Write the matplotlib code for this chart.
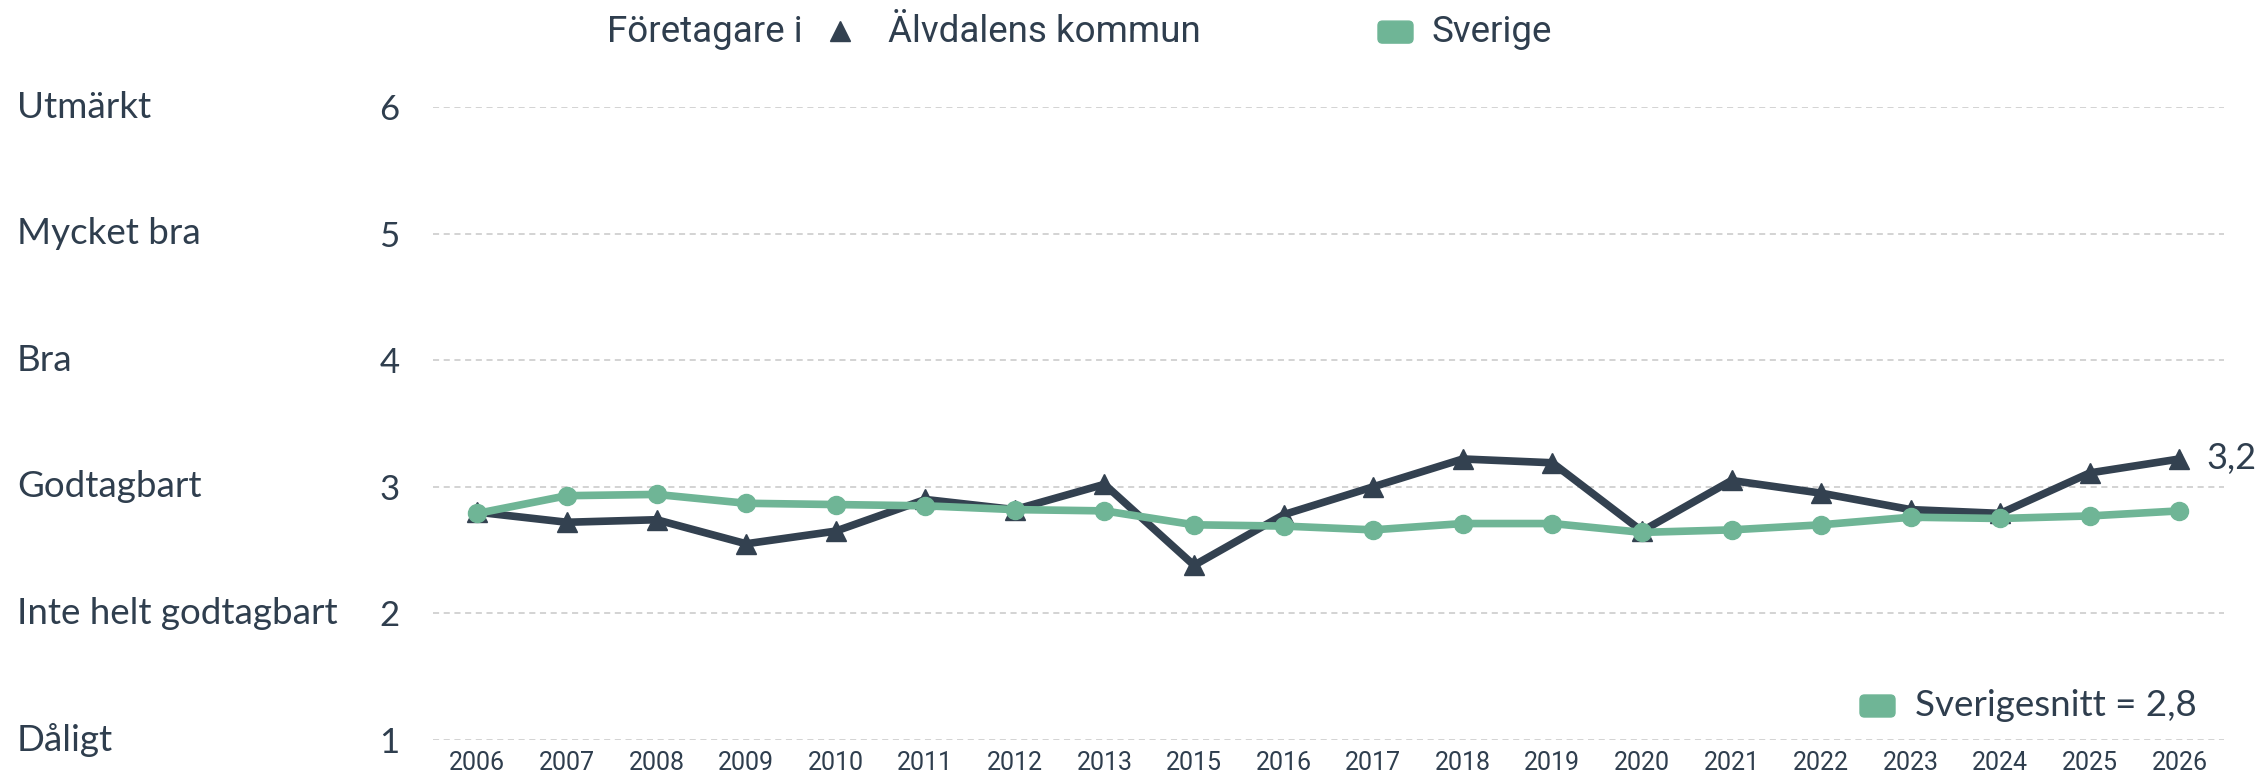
import matplotlib.pyplot as plt
import matplotlib.transforms as mtransforms
from matplotlib.patches import FancyBboxPatch

# data
years = ['2006', '2007', '2008', '2009', '2010', '2011', '2012', '2013', '2015', '2016',
         '2017', '2018', '2019', '2020', '2021', '2022', '2023', '2024', '2025', '2026']
alvdalen = [2.80, 2.72, 2.74, 2.55, 2.65, 2.90, 2.82, 3.02, 2.38, 2.78,
            3.00, 3.22, 3.19, 2.65, 3.05, 2.95, 2.82, 2.79, 3.11, 3.22]
sverige = [2.79, 2.93, 2.94, 2.87, 2.86, 2.85, 2.82, 2.81, 2.70, 2.69,
           2.66, 2.71, 2.71, 2.64, 2.66, 2.70, 2.76, 2.75, 2.77, 2.81]
grade_values = [1, 2, 3, 4, 5, 6]
grade_names = ['Dåligt', 'Inte helt godtagbart', 'Godtagbart', 'Bra', 'Mycket bra', 'Utmärkt']

dark = '#334150'
green = '#6fb596'
textcol = '#2f3e4e'
W, H = 2265, 783

fig = plt.figure(figsize=(W / 100, H / 100), dpi=100)
ax = fig.add_axes([0.191, 0.0549, 0.791, 0.8084])

xs = list(range(len(years)))
ax.plot(xs, alvdalen, color=dark, lw=5.5, marker='^', ms=15, zorder=3, clip_on=False)
ax.plot(xs, sverige, color=green, lw=5.5, marker='o', ms=13, zorder=4, clip_on=False)

ax.set_xlim(-0.5, len(years) - 0.5)
ax.set_ylim(1, 6)
ax.set_xticks(xs)
ax.set_xticklabels(years, fontsize=18, color=textcol, family='Roboto')
ax.set_yticks(grade_values)
ax.set_yticklabels([str(v) for v in grade_values], fontsize=25, color=textcol, family='Lato')
ax.tick_params(axis='x', length=0, pad=8)
ax.tick_params(axis='y', length=0, pad=24)
for s in ax.spines.values():
    s.set_visible(False)
ax.grid(axis='y', color='#c8c8c8', ls=(0, (4, 3)), lw=1.1)
ax.set_axisbelow(True)

# grade names on the far left
trans = mtransforms.blended_transform_factory(fig.transFigure, ax.transData)
for v, name in zip(grade_values, grade_names):
    ax.text(0.0075, v, name, transform=trans, ha='left', va='center',
            fontsize=26.5, color=textcol, family='Lato')

# last value label
ax.text(len(years) - 1 + 0.3, alvdalen[-1], f'{alvdalen[-1]:.1f}'.replace('.', ','),
        ha='left', va='center', fontsize=26, color=textcol, family='Lato', clip_on=False)

# top legend
ly = 0.959
fig.text(0.268, ly, 'Företagare i', ha='left', va='center', fontsize=26.5,
         color=textcol, family='Roboto')
fig.add_artist(plt.Line2D([0.371], [ly + 0.002], marker='^', ms=15, color=dark,
                          transform=fig.transFigure))
fig.text(0.392, ly, 'Älvdalens kommun', ha='left', va='center', fontsize=26.5,
         color=textcol, family='Roboto')
fig.add_artist(FancyBboxPatch((1378 / W, ly - 11 / H), 35 / W, 22 / H,
                              boxstyle='round,pad=0,rounding_size=0.002',
                              color=green, transform=fig.transFigure, mutation_aspect=W / H))
fig.text(0.632, ly, 'Sverige', ha='left', va='center', fontsize=26.5,
         color=textcol, family='Roboto')

# swedish average box
snitt = sverige[-1]
fig.add_artist(FancyBboxPatch((1860 / W, 1 - 717 / H), 35 / W, 22 / H,
                              boxstyle='round,pad=0,rounding_size=0.002',
                              color=green, transform=fig.transFigure, mutation_aspect=W / H))
fig.text(1915 / W, 1 - 705 / H, f'Sverigesnitt = {snitt:.1f}'.replace('.', ','), ha='left',
         va='center', fontsize=26.5, color=textcol, family='Lato')

fig.savefig('out.png', dpi=100)
